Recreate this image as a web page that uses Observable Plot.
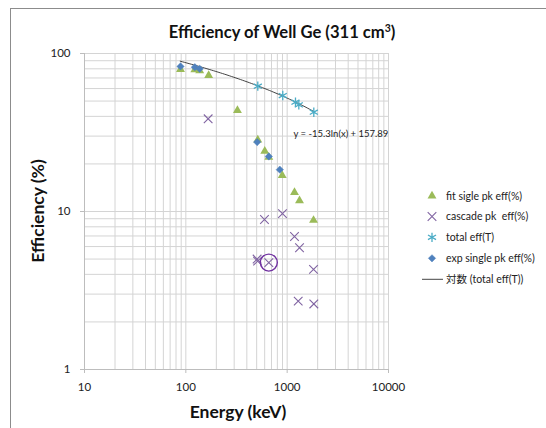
<!DOCTYPE html>
<html>
<head>
<meta charset="utf-8">
<script src="https://cdn.jsdelivr.net/npm/d3@7"></script>
<script src="https://cdn.jsdelivr.net/npm/@observablehq/plot@0.6"></script>
<style>
  html, body { margin: 0; padding: 0; background: #fff; }
  #chart { width: 546px; height: 428px; overflow: hidden; }
</style>
</head>
<body>
<div id="chart"></div>
<script>
// ---- data ----
const fitEnergy = [88.6, 122.7, 137, 168, 323, 513, 601, 659, 894, 1181, 1324, 1820];
const fitEff    = [79.2, 79.0, 77.9, 72.6, 43.6, 28.4, 24.1, 22.1, 16.9, 13.2, 11.7, 8.8];

const cascadeEnergy = [166, 505, 511, 597, 659, 899, 1181, 1285, 1324, 1820, 1832];
const cascadeEff    = [38.6, 5.0, 4.85, 8.9, 4.75, 9.7, 6.95, 2.71, 5.9, 4.3, 2.6];

const totalEnergy = [513, 905, 1208, 1303, 1832];
const totalEff    = [62.1, 54.2, 49.2, 47.3, 42.5];

const expEnergy = [88.6, 122.7, 137, 506, 659, 846];
const expEff    = [82.8, 81.9, 80.0, 27.5, 22.3, 18.4];

// trendline of total eff(T), as printed on the chart: y = a ln(x) + b
const trendA = -15.3, trendB = 157.89;
const trendRange = [88, 1836];
const trendLabel = "y = -15.3ln(x) + 157.89";

// annotation circle (around a cascade point)
const circleEnergy = [659];
const circleEff = [4.75];

const xTickLabels = [10, 100, 1000, 10000];
const yTickLabels = [1, 10, 100];
const minorSteps = [1, 2, 3, 4, 5, 6, 7, 8, 9];

const legendNames = ["fit sigle pk eff(%)", "cascade pk  eff(%)", "total eff(T)", "exp single pk eff(%)", "対数 (total eff(T))"];

// ---- derived tables ----
const zip = (xs, ys) => xs.map((x, i) => ({x, y: ys[i]}));
const fit = zip(fitEnergy, fitEff);
const cascade = zip(cascadeEnergy, cascadeEff);
const total = zip(totalEnergy, totalEff);
const exp = zip(expEnergy, expEff);
const circ = zip(circleEnergy, circleEff);
const trend = d3.range(0, 61).map(i => {
  const x = trendRange[0] * Math.pow(trendRange[1] / trendRange[0], i / 60);
  return {x, y: trendA * Math.log(x) + trendB};
});
const xGrid = xTickLabels.slice(0, -1).flatMap(d => minorSteps.map(s => d * s)).concat([10000]);
const yGrid = yTickLabels.slice(0, -1).flatMap(d => minorSteps.map(s => d * s)).concat([100]);

const C = {fit: "#9BBB59", cascade: "#8064A2", total: "#4BACC6", exp: "#4F81BD"};
const FONT = "Lato, 'Open Sans', sans-serif";

const plot = Plot.plot({
  width: 546,
  height: 428,
  marginLeft: 84,
  marginRight: 158,
  marginTop: 53,
  marginBottom: 59,
  style: {fontFamily: FONT, fontSize: "11px", color: "#222", background: "white"},
  x: {type: "log", domain: [10, 10000]},
  y: {type: "log", domain: [1, 100]},
  marks: [
    Plot.ruleX(xGrid, {stroke: "#d4d4d4", strokeWidth: 1}),
    Plot.ruleY(yGrid, {stroke: "#d4d4d4", strokeWidth: 1}),
    Plot.ruleX([10], {stroke: "#bdbdbd"}),
    Plot.ruleY([1], {stroke: "#bdbdbd"}),
    Plot.axisX({ticks: xTickLabels, tickFormat: d => String(d), tickSize: 4, tickPadding: 9, stroke: "#bdbdbd", label: null, fontSize: 11.5}),
    Plot.axisY({ticks: yTickLabels, tickFormat: d => String(d), tickSize: 4, tickPadding: 10, stroke: "#bdbdbd", label: null, fontSize: 11.5}),
    Plot.line(trend, {x: "x", y: "y", stroke: "#303030", strokeWidth: 0.9}),
    Plot.dot(fit, {x: "x", y: "y", symbol: "triangle", r: 3.3, fill: C.fit, stroke: "none"}),
    Plot.dot(exp, {x: "x", y: "y", symbol: "diamond2", r: 3.3, fill: C.exp, stroke: C.exp, strokeWidth: 0.5}),
    Plot.dot(cascade, {x: "x", y: "y", symbol: "times", r: 4.0, stroke: C.cascade, strokeWidth: 1.1}),
    Plot.dot(total, {x: "x", y: "y", symbol: "asterisk", r: 4.4, stroke: C.total, strokeWidth: 1.3}),
    Plot.dot(circ, {x: "x", y: "y", r: 8.5, stroke: "#7030A0", strokeWidth: 1.4, fill: "none"}),
    Plot.text([trendLabel], {frameAnchor: "top-left", dx: 209, dy: 77, text: d => d, textAnchor: "start", fontSize: 9.5, fill: "#222"})
  ]
});

document.getElementById("chart").appendChild(plot);

// ---- titles, border, legend ----
const svg = d3.select(plot);
svg.insert("rect", ":first-child").attr("x", 10.5).attr("y", 8.5).attr("width", 700).attr("height", 600)
  .attr("fill", "none").attr("stroke", "#8c8c8c").attr("stroke-width", 1);

const title = svg.append("text").attr("x", 282).attr("y", 38).attr("text-anchor", "middle")
  .attr("font-family", FONT).attr("font-weight", "bold").attr("font-size", 16.6).attr("fill", "#111");
title.append("tspan").text("Efficiency of Well Ge (311 cm");
title.append("tspan").attr("dy", -6).attr("font-size", 10.5).text("3");
title.append("tspan").attr("dy", 6).text(")");

svg.append("text").attr("transform", "translate(44,211) rotate(-90)").attr("text-anchor", "middle")
  .attr("font-family", FONT).attr("font-weight", "bold").attr("font-size", 17.5).attr("fill", "#111")
  .text("Efficiency (%)");
svg.append("text").attr("x", 238).attr("y", 418).attr("text-anchor", "middle")
  .attr("font-family", FONT).attr("font-weight", "bold").attr("font-size", 17.5).attr("fill", "#111")
  .text("Energy (keV)");

const legend = svg.append("g").attr("font-family", FONT).attr("font-size", 10.5).attr("fill", "#222")
  .attr("text-anchor", "start");
const rowsY = [196, 216.5, 237.3, 258.3, 279.3];
const syms = [
  {t: d3.symbolTriangle, r: 3.3, fill: C.fit, stroke: "none", sw: 0},
  {t: d3.symbolTimes, r: 4.0, fill: "none", stroke: C.cascade, sw: 1.1},
  {t: d3.symbolAsterisk, r: 4.4, fill: "none", stroke: C.total, sw: 1.3},
  {t: d3.symbolDiamond2, r: 3.3, fill: C.exp, stroke: C.exp, sw: 0.5}
];
syms.forEach((s, i) => {
  legend.append("path").attr("d", d3.symbol(s.t, Math.PI * s.r * s.r)())
    .attr("transform", `translate(432,${rowsY[i]})`)
    .attr("fill", s.fill).attr("stroke", s.stroke).attr("stroke-width", s.sw);
});
legend.append("line").attr("x1", 422).attr("x2", 443).attr("y1", rowsY[4]).attr("y2", rowsY[4])
  .attr("stroke", "#303030").attr("stroke-width", 0.9);
legendNames.forEach((n, i) => {
  legend.append("text").attr("x", 446).attr("y", rowsY[i]).attr("dy", "0.35em")
    .attr("text-anchor", "start")
    .attr("font-family", i === 4 ? "Lato, 'Noto Sans CJK JP', sans-serif" : FONT)
    .text(n);
});
</script>
</body>
</html>
